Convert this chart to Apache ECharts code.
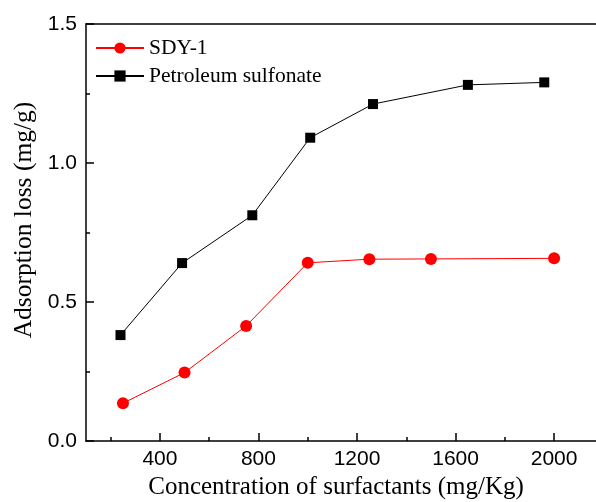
<!DOCTYPE html>
<html>
<head>
<meta charset="utf-8">
<script src="https://cdn.jsdelivr.net/npm/echarts@6/dist/echarts.min.js"></script>
<style>html,body{margin:0;padding:0;background:#fff}#c{width:596px;height:502px}</style>
</head>
<body>
<div id="c"></div>
<script>
const sdyX = [250, 500, 750, 1000, 1250, 1500, 2000];
const sdyY = [0.136, 0.246, 0.414, 0.641, 0.654, 0.655, 0.657];
const petX = [240, 490, 775, 1010, 1265, 1650, 1960];
const petY = [0.381, 0.640, 0.812, 1.091, 1.212, 1.281, 1.290];
const xMajorTicks = [400, 800, 1200, 1600, 2000];
const xMinorTicks = [200, 600, 1000, 1400, 1800];

const serif = 'Liberation Serif';
const sans = 'Liberation Sans';
const XMIN = 100, XMAX = 2170;

const chart = echarts.init(document.getElementById('c'), null, {renderer: 'canvas'});
chart.setOption({
  animation: false,
  backgroundColor: '#fff',
  grid: {left: 86, top: 24, right: 0, bottom: 61, containLabel: false, outerBoundsMode: 'none'},
  legend: {
    left: 95, top: 37, orient: 'vertical', itemGap: 6, padding: 0,
    itemWidth: 48, itemHeight: 14,
    textStyle: {fontFamily: serif, fontSize: 21.5, color: '#000'},
    data: ['SDY-1', 'Petroleum sulfonate']
  },
  xAxis: [{
    type: 'value', position: 'bottom', min: XMIN, max: XMAX,
    name: 'Concentration of surfactants (mg/Kg)', nameLocation: 'middle', nameGap: 34,
    nameTextStyle: {fontFamily: serif, fontSize: 25, color: '#000', padding: [0, 10, 0, 0]},
    axisLine: {show: true, onZero: false, lineStyle: {color: '#000', width: 1.5}},
    axisTick: {show: true, inside: true, length: 8, customValues: xMajorTicks, lineStyle: {color: '#000', width: 1.5}},
    axisLabel: {show: true, customValues: xMajorTicks, margin: 8, fontFamily: sans, fontSize: 21, color: '#000',
      formatter: v => String(v)},
    splitLine: {show: false}
  }, {
    type: 'value', position: 'bottom', min: XMIN, max: XMAX,
    axisLine: {show: false},
    axisTick: {show: true, inside: true, length: 4, customValues: xMinorTicks, lineStyle: {color: '#000', width: 1.5}},
    axisLabel: {show: false},
    splitLine: {show: false}
  }, {
    type: 'value', position: 'top', min: XMIN, max: XMAX,
    axisLine: {show: true, onZero: false, lineStyle: {color: '#000', width: 1.5}},
    axisTick: {show: false}, axisLabel: {show: false}, splitLine: {show: false}
  }],
  yAxis: {
    type: 'value', min: 0, max: 1.5, interval: 0.5,
    name: 'Adsorption loss (mg/g)', nameLocation: 'middle', nameGap: 49,
    nameTextStyle: {fontFamily: serif, fontSize: 25.5, color: '#000', padding: [0, 0, 0, 25]},
    axisLine: {show: true, onZero: false, lineStyle: {color: '#000', width: 1.5}},
    axisTick: {show: true, inside: true, length: 8, lineStyle: {color: '#000', width: 1.5}},
    minorTick: {show: true, splitNumber: 2, length: 4, lineStyle: {color: '#000', width: 1.5}},
    axisLabel: {margin: 9, fontFamily: sans, fontSize: 21, color: '#000',
      formatter: v => v.toFixed(1)},
    splitLine: {show: false}
  },
  series: [{
    name: 'SDY-1', type: 'line', xAxisIndex: 0,
    data: sdyX.map((x, i) => [x, sdyY[i]]),
    symbol: 'circle', symbolSize: 12,
    itemStyle: {color: '#ff0000'},
    lineStyle: {color: '#ff0000', width: 1}
  }, {
    name: 'Petroleum sulfonate', type: 'line', xAxisIndex: 0,
    data: petX.map((x, i) => [x, petY[i]]),
    symbol: 'rect', symbolSize: 10,
    itemStyle: {color: '#000'},
    lineStyle: {color: '#000', width: 1}
  }]
});
</script>
</body>
</html>
